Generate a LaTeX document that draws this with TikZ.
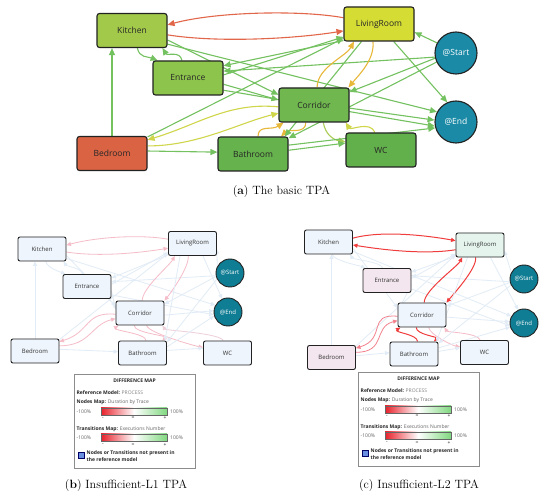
\documentclass[tikz,border=0pt]{standalone}
\usepackage{fontspec}
\newfontfamily\osans{Open Sans}
\usetikzlibrary{arrows.meta,calc}
\pgfdeclarelayer{paper}
\pgfdeclarelayer{background}
\pgfsetlayers{paper,background,main}
\definecolor{nKit}{HTML}{A3C94A}
\definecolor{nLiv}{HTML}{D5DD35}
\definecolor{nEnt}{HTML}{8DC44C}
\definecolor{nCor}{HTML}{6FB74E}
\definecolor{nBed}{HTML}{DA6343}
\definecolor{nBat}{HTML}{66B24C}
\definecolor{nWC}{HTML}{62B04B}
\definecolor{nCirc}{HTML}{1B8AA6}
\definecolor{nCircB}{HTML}{0F7D94}
\definecolor{nPale}{HTML}{EEF5FC}
\definecolor{nPaleG}{HTML}{E5F5EE}
\definecolor{nPaleP}{HTML}{F3E6EE}
\definecolor{gEdge}{HTML}{74C160}
\definecolor{rEdge}{HTML}{E2674A}
\definecolor{yEdge}{HTML}{E8B83A}
\definecolor{ygEdge}{HTML}{D0D64A}
\definecolor{lgEdge}{HTML}{A9CC55}
\definecolor{faint}{HTML}{E2ECF6}
\definecolor{pinkE}{HTML}{F5BCC8}
\definecolor{redE}{HTML}{F03C3C}
\definecolor{pinkRed}{HTML}{F2828E}
\definecolor{barred}{HTML}{E8202A}
\definecolor{bargreen}{HTML}{80D880}
\definecolor{blueSq}{HTML}{6A8FE0}
\definecolor{outl}{HTML}{222222}
\tikzset{
  edgeDef/.style={},
  ed1/.style={edgeDef}, ed2/.style={edgeDef}, ed3/.style={edgeDef}, ed4/.style={edgeDef},
  ed5/.style={edgeDef}, ed6/.style={edgeDef}, ed7/.style={edgeDef}, ed8/.style={edgeDef},
  ed9/.style={edgeDef}, ed10/.style={edgeDef}, ed11/.style={edgeDef}, ed12/.style={edgeDef},
  ed13/.style={edgeDef}, ed14/.style={edgeDef}, ed15/.style={edgeDef}, ed16/.style={edgeDef},
  ed17/.style={edgeDef}, ed18/.style={edgeDef}, ed19/.style={edgeDef}, ed20/.style={edgeDef},
  ed21/.style={edgeDef}, ed22/.style={edgeDef}, ed23/.style={edgeDef}, ed25/.style={edgeDef},
  ed26/.style={edgeDef}, ed27/.style={edgeDef}, ed28/.style={edgeDef}, ed29/.style={edgeDef},
  ed30/.style={edgeDef}, ed31/.style={edgeDef},
  bigbox/.style={draw=outl, line width=1.1pt, rounded corners=2.5pt, minimum width=70pt,
    minimum height=34pt, inner sep=0pt, font=\osans\fontsize{8.5}{10}\selectfont, text=black!85},
  bigcirc/.style={circle, draw=outl, line width=1.1pt, fill=nCirc, minimum size=42pt,
    inner sep=0pt, font=\osans\fontsize{8.5}{10}\selectfont, text=white},
  smallbox/.style={draw=outl, line width=0.9pt, rounded corners=2pt, minimum width=48pt,
    minimum height=24pt, inner sep=0pt, fill=nPale, font=\osans\fontsize{6}{7}\selectfont, text=black!80},
  smallcirc/.style={circle, draw=outl, line width=0.9pt, fill=nCircB, minimum size=28pt,
    inner sep=0pt, font=\osans\fontsize{6}{7}\selectfont, text=white},
  lg/.style={inner sep=0pt, font=\osans\fontsize{5}{7}\selectfont, text=black!85},
  captxt/.style={inner sep=0pt, font=\fontsize{12}{14}\selectfont},
  topArr/.style={-{Triangle[length=7pt,width=6pt]}, line width=1.1pt},
  botArr/.style={-{Triangle[length=4.5pt,width=4pt]}, line width=0.8pt},
  botArrR/.style={{Triangle[length=4.5pt,width=4pt]}-, line width=0.8pt},
}
\newcommand\tpaedges[2]{%
\begin{pgfonlayer}{background}
\draw[ed1] (#1L.170) .. controls +(-44*#2,-8*#2) and +(48*#2,-13*#2) .. (#1K.9);
\draw[ed2] (#1K.-7) .. controls +(50*#2,8*#2) and +(-50*#2,8*#2) .. (#1L.-169);
\draw[ed3] (#1B.north) -- (#1B.north |- #1K.south);
\draw[ed4] (#1K.-73) .. controls +(2*#2,10*#2) and +(-10*#2,-4*#2) .. (#1N.150);
\draw[ed5] (#1N.109) .. controls +(-2*#2,-10*#2) and +(5*#2,8*#2) .. (#1K.-30);
\draw[ed6] (#1K.-15) -- (#1C.164);
\draw[ed7] (#1K.-21) -- (#1E.152);
\draw[ed8] (#1S.191) -- (#1N.11);
\draw[ed9] (#1L.-155) -- (#1N.19);
\draw[ed10] (#1N.5) -- (#1L.200);
\draw[ed11] (#1N.-10) -- (#1C.172);
\draw[ed12] (#1N.-19) -- (#1E.191);
\draw[ed13] (#1B.25) -- (#1L.202);
\draw[ed14] (#1C.183) .. controls +(-50*#2,-5*#2) and +(50*#2,-15*#2) .. (#1B.21);
\draw[ed15] (#1B.12) .. controls +(50*#2,0) and +(-40*#2,10*#2) .. (#1C.193);
\draw[ed16] (#1B.4) -- (#1T.177);
\draw[ed17] (#1T.74) .. controls +(0,-12*#2) and +(-12*#2,8*#2) .. (#1C.210);
\draw[ed18] (#1C.-115) .. controls +(0,12*#2) and +(8*#2,-8*#2) .. (#1T.32);
\draw[ed19] (#1C.80) .. controls +(0,-20*#2) and +(-8*#2,15*#2) .. (#1L.-145);
\draw[ed20] (#1L.-109) .. controls +(2*#2,18*#2) and +(10*#2,-12*#2) .. (#1C.27);
\draw[ed21] (#1S.152) -- (#1L.-13);
\draw[ed22] (#1L.-50) -- (#1E.114);
\draw[ed23] (#1C.-5) -- (#1E.175);
\draw[ed25] (#1C.-62) .. controls +(2*#2,12*#2) and +(-12*#2,-2*#2) .. (#1W.167);
\draw[ed26] (#1W.109) .. controls +(-5*#2,-12*#2) and +(5*#2,8*#2) .. (#1C.-29);
\draw[ed27] (#1T.14) -- (#1E.196);
\draw[ed28] (#1T.6) -- (#1W.169);
\draw[ed29] (#1S.205) -- (#1T.24.6);
\draw[ed30] (#1L.-135) -- (#1T.29);
\draw[ed31] (#1S.194) -- (#1C.20);
\end{pgfonlayer}}
\newcommand\tpalegend[3]{%
\begin{scope}[shift={(#2,#3)}]
\node[draw=black!45, line width=0.7pt, minimum width=121pt, minimum height=94pt,
  anchor=north west, inner sep=0pt] (#1box) at (0,0) {};
\node[lg, font=\osans\bfseries\fontsize{5}{7}\selectfont] (#1ttl) at (60.5,7) {DIFFERENCE MAP};
\node[lg, anchor=west] (#1ref) at (2.5,19) {\textbf{Reference Model:} \textcolor{black!50}{PROCESS}};
\node[lg, anchor=west] (#1nm) at (2.5,28) {\textbf{Nodes Map:} \textcolor{black!60}{Duration by Trace}};
\node[lg, anchor=west, text=black!60] (#1ma) at (2.5,37.5) {-100\%};
\shade[left color=barred, right color=bargreen, middle color=white] (27,34) rectangle (93,41);
\draw[black!60, line width=0.5pt] (27,34) rectangle (93,41);
\node[lg, anchor=west, text=black!60] (#1pa) at (96,37.5) {100\%};
\node[lg] (#1ta) at (29,44.5) {-};
\node[lg] (#1tb) at (59,44.5) {=};
\node[lg] (#1tc) at (91,44.5) {+};
\node[lg, anchor=west] (#1tm) at (2.5,55) {\textbf{Transitions Map:} \textcolor{black!60}{Executions Number}};
\node[lg, anchor=west, text=black!60] (#1mb) at (2.5,63.5) {-100\%};
\shade[left color=barred, right color=bargreen, middle color=white] (27,60) rectangle (93,67);
\draw[black!60, line width=0.5pt] (27,60) rectangle (93,67);
\node[lg, anchor=west, text=black!60] (#1pb) at (96,63.5) {100\%};
\node[lg] (#1td) at (29,71) {-};
\node[lg] (#1te) at (59,71) {=};
\node[lg] (#1tf) at (91,71) {+};
\draw[fill=blueSq, draw=blue!40!black, line width=0.3pt] (4,78) rectangle (10,84);
\node[lg, anchor=north west, align=left, font=\osans\bfseries\fontsize{5}{7}\selectfont]
  (#1nt) at (12.5,77) {Nodes or Transitions not present in\\the reference model};
\end{scope}}
\begin{document}
\begin{tikzpicture}[x=1pt,y=-1pt]
\begin{pgfonlayer}{paper}
\fill[white] (0,0) rectangle (550,500);
\end{pgfonlayer}
\useasboundingbox (0,0) rectangle (550,500);
% ---------- (a) ----------
\node[bigbox, fill=nKit] (aK) at (132,30.5) {Kitchen};
\node[bigbox, fill=nLiv] (aL) at (379,24) {LivingRoom};
\node[bigbox, fill=nEnt] (aN) at (188,78) {Entrance};
\node[bigbox, fill=nCor] (aC) at (314,105) {Corridor};
\node[bigbox, fill=nBed] (aB) at (112,153.5) {Bedroom};
\node[bigbox, fill=nBat] (aT) at (253,154) {Bathroom};
\node[bigbox, fill=nWC] (aW) at (381,150) {WC};
\node[bigcirc] (aS) at (456,53) {@Start};
\node[bigcirc] (aE) at (456,122) {@End};
\begin{scope}[edgeDef/.style={topArr, draw=gEdge},
  ed1/.style={edgeDef, draw=rEdge}, ed2/.style={edgeDef, draw=rEdge},
  ed14/.style={edgeDef, draw=ygEdge}, ed15/.style={edgeDef, draw=ygEdge},
  ed17/.style={edgeDef, draw=yEdge}, ed18/.style={edgeDef, draw=yEdge},
  ed19/.style={edgeDef, draw=yEdge}, ed20/.style={edgeDef, draw=yEdge},
  ed25/.style={edgeDef, draw=lgEdge}, ed26/.style={edgeDef, draw=ygEdge}]
\tpaedges{a}{1}
\end{scope}
\node[captxt] (capA) at (281.5,192) {(\textbf{a}) The basic TPA};
% ---------- (b) ----------
\node[smallbox] (bK) at (42,249) {Kitchen};
\node[smallbox] (bL) at (192.5,243.5) {LivingRoom};
\node[smallbox] (bN) at (87,286.5) {Entrance};
\node[smallbox] (bC) at (140,313) {Corridor};
\node[smallbox] (bB) at (35,351) {Bedroom};
\node[smallbox] (bT) at (142.5,353) {Bathroom};
\node[smallbox] (bW) at (227.5,353) {WC};
\node[smallcirc] (bS) at (230,273) {@Start};
\node[smallcirc] (bE) at (228,312) {@End};
\begin{scope}[edgeDef/.style={botArr, draw=faint},
  ed1/.style={botArr, draw=pinkE}, ed2/.style={botArr, draw=pinkE},
  ed14/.style={botArr, draw=pinkE}, ed15/.style={botArr, draw=pinkE},
  ed17/.style={botArr, draw=pinkE}, ed18/.style={botArr, draw=pinkE},
  ed19/.style={botArr, draw=pinkE}, ed20/.style={botArr, draw=pinkE},
  ed25/.style={botArr, draw=pinkE}, ed26/.style={botArr, draw=pinkE!60!faint}]
\tpaedges{b}{0.62}
\end{scope}
\tpalegend{lb}{74}{374}
\node[captxt] (capB) at (126,486) {(\textbf{b}) Insufficient-L1 TPA};
% ---------- (c) ----------
\node[smallbox] (cK) at (328.5,242) {Kitchen};
\node[smallbox, fill=nPaleG] (cL) at (480,245) {LivingRoom};
\node[smallbox, fill=nPaleP] (cN) at (387,280.5) {Entrance};
\node[smallbox] (cC) at (422,315) {Corridor};
\node[smallbox, fill=nPaleP] (cB) at (331.5,357.5) {Bedroom};
\node[smallbox] (cT) at (414,354) {Bathroom};
\node[smallbox] (cW) at (484.5,352.5) {WC};
\node[smallcirc] (cS) at (524,279) {@Start};
\node[smallcirc] (cE) at (524,323) {@End};
\begin{scope}[edgeDef/.style={botArr, draw=faint},
  ed1/.style={botArrR, line width=1pt, draw=redE}, ed2/.style={botArrR, line width=1pt, draw=redE},
  ed14/.style={botArr, draw=pinkRed}, ed15/.style={botArr, draw=pinkRed},
  ed17/.style={botArr, line width=1pt, draw=redE}, ed18/.style={botArr, line width=1pt, draw=redE},
  ed19/.style={botArr, line width=1pt, draw=redE}, ed20/.style={botArr, line width=1pt, draw=redE},
  ed25/.style={botArr, draw=pinkE}, ed26/.style={botArr, draw=pinkE}]
\tpaedges{c}{0.62}
\end{scope}
\tpalegend{lc}{358}{372}
\node[captxt] (capC) at (419,486) {(c) Insufficient-L2 TPA};
\end{tikzpicture}
\end{document}
